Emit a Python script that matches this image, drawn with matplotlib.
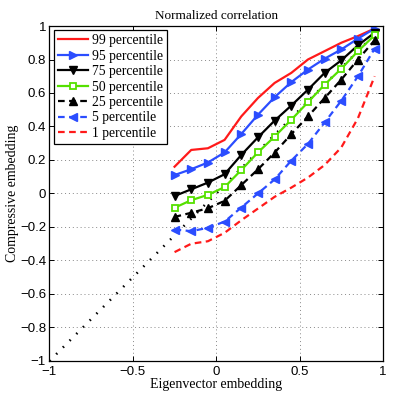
import numpy as np
import matplotlib
matplotlib.use("Agg")
import matplotlib.pyplot as plt

# eigenvector embedding bins (x)
x = [-0.25, -0.15, -0.05, 0.05, 0.15, 0.25, 0.35, 0.45, 0.55, 0.65, 0.75, 0.85, 0.95]

# compressive embedding percentiles (y)
p99 = [0.16, 0.26, 0.27, 0.32, 0.46, 0.57, 0.66, 0.72, 0.80, 0.85, 0.90, 0.94, 0.985]
p95 = [0.11, 0.145, 0.185, 0.245, 0.355, 0.47, 0.575, 0.665, 0.74, 0.805, 0.86, 0.925, 0.985]
p75 = [-0.015, 0.025, 0.065, 0.115, 0.23, 0.335, 0.435, 0.525, 0.62, 0.72, 0.795, 0.885, 0.96]
p50 = [-0.085, -0.04, -0.008, 0.038, 0.14, 0.245, 0.34, 0.44, 0.545, 0.65, 0.745, 0.85, 0.945]
p25 = [-0.14, -0.115, -0.088, -0.044, 0.05, 0.144, 0.244, 0.354, 0.46, 0.57, 0.68, 0.80, 0.915]
p5 = [-0.215, -0.225, -0.205, -0.168, -0.084, 0.0, 0.084, 0.196, 0.296, 0.424, 0.554, 0.70, 0.865]
p1 = [-0.35, -0.30, -0.285, -0.235, -0.16, -0.09, -0.02, 0.035, 0.095, 0.17, 0.275, 0.45, 0.70]

diag = [-1, 1]

x_ticks = [-1, -0.5, 0, 0.5, 1]
y_ticks = [-1, -0.8, -0.6, -0.4, -0.2, 0, 0.2, 0.4, 0.6, 0.8, 1]

serif = "Liberation Serif"
sans = "Liberation Sans"

red = "#ff1a1a"
blue = "#2b4dff"
green = "#55e000"
dash = (0, (3, 2))


def fmt(v):
    s = f"{abs(v):g}"
    return "\u2212" + s if v < 0 else s


fig = plt.figure(figsize=(3.95, 3.94), dpi=100)
ax = fig.add_axes([0.1253, 0.0838, 0.8443, 0.8502])

ax.plot(diag, diag, color="black", lw=1.8, linestyle=(0, (0.6, 3.2)), zorder=1)

ax.plot(x, p99, color=red, lw=1.6, label="99 percentile")
ax.plot(x, p95, color=blue, lw=1.6, marker=">", ms=6, label="95 percentile")
ax.plot(x, p75, color="black", lw=1.6, marker="v", ms=6, label="75 percentile")
ax.plot(x, p50, color=green, lw=1.6, marker="s", ms=4.8, mfc="white", mew=1.3,
        label="50 percentile")
ax.plot(x, p25, color="black", lw=1.6, linestyle=dash, marker="^", ms=6,
        label="25 percentile")
ax.plot(x, p5, color=blue, lw=1.6, linestyle=dash, marker="<", ms=6,
        label="5 percentile")
ax.plot(x, p1, color=red, lw=1.6, linestyle=dash, label="1 percentile")

ax.set_xlim(-1, 1)
ax.set_ylim(-1, 1)
ax.set_xticks(x_ticks)
ax.set_xticklabels([fmt(v) for v in x_ticks], fontfamily=sans, fontsize=9.5)
ax.set_yticks(y_ticks)
ax.set_yticklabels([fmt(v) for v in y_ticks], fontfamily=sans, fontsize=9.5)
ax.tick_params(direction="in", top=True, right=True, length=3.5, width=0.7)
ax.tick_params(axis="x", pad=3.5)
ax.tick_params(axis="y", pad=2.5)
ax.grid(True, linestyle=(0, (1, 3)), color="#888888", lw=0.7)
for s in ax.spines.values():
    s.set_linewidth(0.9)

ax.set_title("Normalized correlation", fontfamily=serif, fontsize=9.5, pad=5)
ax.set_xlabel("Eigenvector embedding", fontfamily=serif, fontsize=10, labelpad=0)
ax.set_ylabel("Compressive embedding", fontfamily=serif, fontsize=10, labelpad=1)

leg = ax.legend(loc="upper left", prop={"family": serif, "size": 9.8}, fancybox=False,
                framealpha=1, edgecolor="black", numpoints=1, handlelength=2.2,
                handletextpad=0.3, labelspacing=0.18, borderaxespad=0.3,
                borderpad=0.3)
leg.get_frame().set_linewidth(0.9)

fig.savefig("out.png", dpi=100)
